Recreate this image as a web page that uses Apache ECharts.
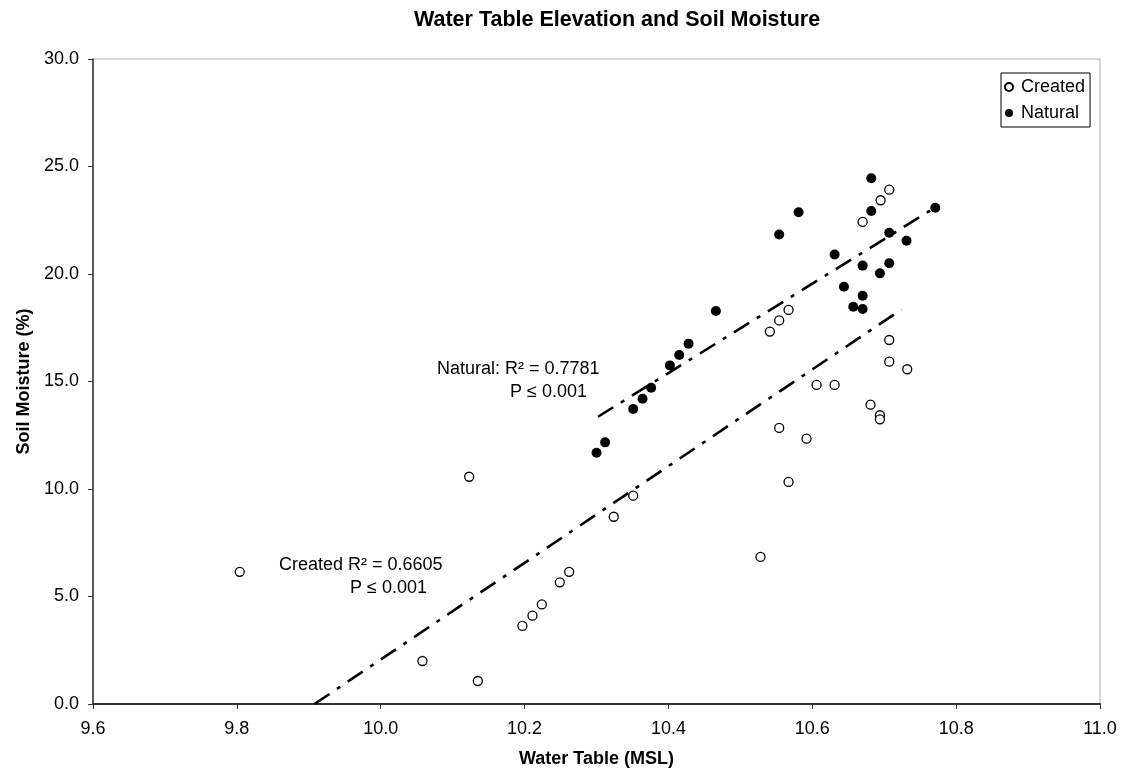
<!DOCTYPE html>
<html>
<head>
<meta charset="utf-8">
<script src="https://cdn.jsdelivr.net/npm/echarts@6/dist/echarts.min.js"></script>
<style>
html,body{margin:0;padding:0;background:#fff;}
#chart{width:1125px;height:778px;}
</style>
</head>
<body>
<div id="chart"></div>
<script>
// ---- data ----
var createdX = [9.804, 10.123, 10.058, 10.135, 10.197, 10.211, 10.224, 10.249, 10.262, 10.324, 10.351, 10.528, 10.554, 10.567, 10.541, 10.554, 10.567, 10.592, 10.606, 10.631, 10.670, 10.695, 10.707, 10.681, 10.694, 10.694, 10.707, 10.707, 10.732];
var createdY = [6.15, 10.57, 2.00, 1.07, 3.63, 4.11, 4.63, 5.66, 6.15, 8.71, 9.69, 6.84, 12.84, 10.33, 17.32, 17.84, 18.33, 12.34, 14.84, 14.84, 22.42, 23.43, 23.92, 13.92, 13.43, 13.24, 16.93, 15.92, 15.57];
var naturalX = [10.300, 10.312, 10.351, 10.364, 10.376, 10.402, 10.415, 10.428, 10.466, 10.554, 10.581, 10.631, 10.644, 10.657, 10.670, 10.670, 10.670, 10.682, 10.682, 10.694, 10.707, 10.707, 10.731, 10.771];
var naturalY = [11.69, 12.17, 13.72, 14.20, 14.71, 15.75, 16.23, 16.76, 18.28, 21.84, 22.87, 20.91, 19.41, 18.48, 18.37, 18.99, 20.39, 22.93, 24.45, 20.03, 20.50, 21.92, 21.55, 23.08];
// trend line end points
var createdTrendX = [9.908, 10.724];
var createdTrendY = [0.0, 18.35];
var naturalTrendX = [10.302, 10.775];
var naturalTrendY = [13.36, 23.18];
// axis ranges / labels
var xMin = 9.6, xMax = 11.0, xStep = 0.2;
var yMin = 0, yMax = 30, yStep = 5;
var titleText = 'Water Table Elevation and Soil Moisture';
var xName = 'Water Table (MSL)';
var yName = 'Soil Moisture (%)';
var naturalNote = ['Natural: R\u00B2 = 0.7781', 'P \u2264 0.001'];
var createdNote = ['Created R\u00B2 = 0.6605', 'P \u2264 0.001'];

function zip(a, b) { return a.map(function (v, i) { return [v, b[i]]; }); }

var FONT = '"Liberation Sans", Arial, sans-serif';
var chart = echarts.init(document.getElementById('chart'), null, {renderer: 'canvas'});
var dash = [18, 9, 4, 9];

chart.setOption({
  backgroundColor: '#fff',
  animation: false,
  title: {
    text: titleText,
    left: 409, top: 4,
    textStyle: {fontFamily: FONT, fontSize: 21.5, fontWeight: 'bold', color: '#000'}
  },
  legend: {
    data: ['Created', 'Natural'],
    orient: 'vertical',
    left: 1001, top: 73,
    padding: [5, 5, 5, 3],
    itemWidth: 8, itemHeight: 8, itemGap: 8,
    borderColor: '#000', borderWidth: 1,
    textStyle: {fontFamily: FONT, fontSize: 18, color: '#000', padding: [0, 0, 0, 3]}
  },
  grid: {
    left: 93, right: 25, top: 59, bottom: 74,
    show: true, borderColor: '#b0b0b0', borderWidth: 1, backgroundColor: 'transparent'
  },
  xAxis: {
    type: 'value', min: xMin, max: xMax, interval: xStep,
    name: xName, nameLocation: 'middle', nameGap: 46,
    nameTextStyle: {fontFamily: FONT, fontSize: 18, fontWeight: 'bold', color: '#000'},
    axisLine: {show: true, onZero: false, lineStyle: {color: '#333', width: 2}},
    axisTick: {show: true, inside: false, length: 5, lineStyle: {color: '#333', width: 1}},
    axisLabel: {fontFamily: FONT, fontSize: 18, color: '#000', margin: 16,
      formatter: function (v) { return v.toFixed(1); }},
    splitLine: {show: false}
  },
  yAxis: {
    type: 'value', min: yMin, max: yMax, interval: yStep,
    name: yName, nameLocation: 'middle', nameGap: 55, nameRotate: 90,
    nameTextStyle: {fontFamily: FONT, fontSize: 18, fontWeight: 'bold', color: '#000'},
    axisLine: {show: true, onZero: false, lineStyle: {color: '#333', width: 1.5}},
    axisTick: {show: true, inside: false, length: 5, lineStyle: {color: '#333', width: 1}},
    axisLabel: {fontFamily: FONT, fontSize: 18, color: '#000', margin: 14,
      formatter: function (v) { return v.toFixed(1); }},
    splitLine: {show: false}
  },
  series: [
    {
      name: 'createdTrend', type: 'line', z: 1, silent: true,
      data: zip(createdTrendX, createdTrendY), symbol: 'none',
      lineStyle: {color: '#000', width: 2.6, type: dash}
    },
    {
      name: 'naturalTrend', type: 'line', z: 1, silent: true,
      data: zip(naturalTrendX, naturalTrendY), symbol: 'none',
      lineStyle: {color: '#000', width: 2.6, type: dash}
    },
    {
      name: 'Created', type: 'scatter', z: 3,
      data: zip(createdX, createdY), symbol: 'circle', symbolSize: 9,
      itemStyle: {color: '#fff', borderColor: '#000', borderWidth: 1.3, opacity: 1}
    },
    {
      name: 'Natural', type: 'scatter', z: 4,
      data: zip(naturalX, naturalY), symbol: 'circle', symbolSize: 10,
      itemStyle: {color: '#000', borderColor: '#000', borderWidth: 0, opacity: 1}
    }
  ],
  graphic: [
    {type: 'text', left: 437, top: 360, style: {text: naturalNote[0], font: '18px ' + FONT, fill: '#000'}},
    {type: 'text', left: 510, top: 383, style: {text: naturalNote[1], font: '18px ' + FONT, fill: '#000'}},
    {type: 'text', left: 279, top: 556, style: {text: createdNote[0], font: '18px ' + FONT, fill: '#000'}},
    {type: 'text', left: 350, top: 579, style: {text: createdNote[1], font: '18px ' + FONT, fill: '#000'}}
  ]
});
</script>
</body>
</html>
